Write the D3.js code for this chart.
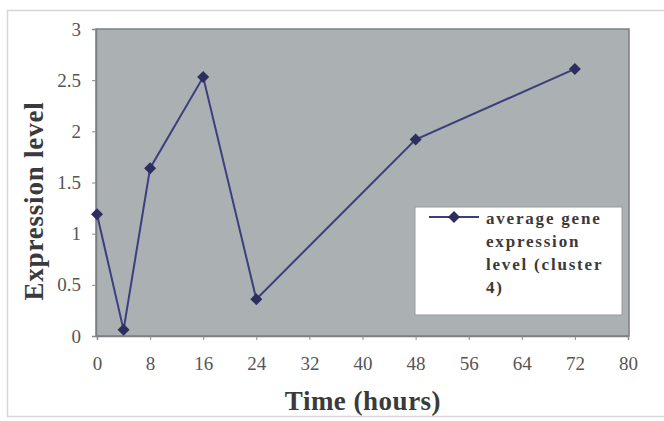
<!DOCTYPE html>
<html>
<head>
<meta charset="utf-8">
<script src="https://cdn.jsdelivr.net/npm/d3@7"></script>
<style>
  html, body { margin: 0; padding: 0; background: #ffffff; }
  svg { display: block; }
</style>
</head>
<body>
<svg id="chart" width="664" height="421"></svg>
<script>
// Time points (hours) and average expression level for cluster 4
const hours = [0, 4, 8, 16, 24, 48, 72];
const expression = [1.19, 0.06, 1.64, 2.53, 0.36, 1.92, 2.61];
const xTicks = [0, 8, 16, 24, 32, 40, 48, 56, 64, 72, 80];
const yTicks = [0, 0.5, 1, 1.5, 2, 2.5, 3];
const seriesName = ["average gene", "expression", "level (cluster", "4)"];

const svg = d3.select("#chart");
const serif = "'Liberation Serif', 'Times New Roman', serif";

const plot = { left: 96, right: 629, top: 29, bottom: 336 };

const x = d3.scaleLinear().domain([0, 80]).range([plot.left + 1, plot.right - 1]);
const y = d3.scaleLinear().domain([0, 3]).range([plot.bottom, plot.top]);

// outer chart frame
svg.append("rect")
  .attr("x", 7.5).attr("y", 10.5)
  .attr("width", 670).attr("height", 406)
  .attr("fill", "#ffffff")
  .attr("stroke", "#d6d6d6").attr("stroke-width", 1.5);

// plot area
svg.append("rect")
  .attr("x", plot.left).attr("y", plot.top)
  .attr("width", plot.right - plot.left).attr("height", plot.bottom - plot.top)
  .attr("fill", "#abb0b3")
  .attr("stroke", "#7c7f82").attr("stroke-width", 1.5);

// axes
const xAxis = d3.axisBottom(x).tickValues(xTicks).tickSize(4).tickPadding(17).tickFormat(d3.format("d"));
const yAxis = d3.axisLeft(y).tickValues(yTicks).tickSize(4).tickPadding(11).tickFormat(d => String(d));

const gx = svg.append("g").attr("transform", `translate(0,${plot.bottom})`).call(xAxis);
const gy = svg.append("g").attr("transform", `translate(${plot.left},0)`).call(yAxis);

[gx, gy].forEach(g => {
  g.select(".domain").attr("stroke", "#7c7f82").attr("stroke-width", 1.5);
  g.selectAll(".tick line").attr("stroke", "#8a8a8a");
  g.selectAll(".tick text")
    .attr("fill", "#555555")
    .style("font-family", serif)
    .style("font-size", "19px");
});

// axis titles
svg.append("text")
  .attr("x", 363).attr("y", 410)
  .attr("text-anchor", "middle")
  .style("font-family", serif).style("font-weight", "bold").style("font-size", "27px")
  .style("letter-spacing", "0.5px")
  .attr("fill", "#3a3a3a")
  .text("Time (hours)");

svg.append("text")
  .attr("transform", "translate(43,201) rotate(-90)")
  .attr("text-anchor", "middle")
  .style("font-family", serif).style("font-weight", "bold").style("font-size", "27px")
  .style("letter-spacing", "0.8px")
  .attr("fill", "#3a3a3a")
  .text("Expression level");

// series line and diamond markers
const lineColor = "#3b3f7c";
const line = d3.line().x((d, i) => x(hours[i])).y(d => y(d));

svg.append("path")
  .datum(expression)
  .attr("d", line)
  .attr("fill", "none")
  .attr("stroke", lineColor)
  .attr("stroke-width", 2);

const diamond = d3.symbol().type(d3.symbolSquare).size(72);
svg.selectAll(".marker")
  .data(expression)
  .join("path")
  .attr("class", "marker")
  .attr("transform", (d, i) => `translate(${x(hours[i])},${y(d)}) rotate(45)`)
  .attr("d", diamond)
  .attr("fill", "#2c2f5e");

// legend
const lg = svg.append("g");
lg.append("rect")
  .attr("x", 415).attr("y", 207).attr("width", 207).attr("height", 108)
  .attr("fill", "#ffffff").attr("stroke", "#9a9a9a").attr("stroke-width", 1);
lg.append("line")
  .attr("x1", 429).attr("x2", 479).attr("y1", 217).attr("y2", 217)
  .attr("stroke", lineColor).attr("stroke-width", 2);
lg.append("path")
  .attr("transform", "translate(454,217) rotate(45)")
  .attr("d", diamond)
  .attr("fill", "#2c2f5e");
lg.selectAll("text")
  .data(seriesName)
  .join("text")
  .attr("x", 486)
  .attr("y", (d, i) => 224 + i * 23)
  .style("font-family", serif).style("font-weight", "bold").style("font-size", "17px")
  .style("letter-spacing", "1.8px")
  .attr("fill", "#3a3a3a")
  .text(d => d);
</script>
</body>
</html>
